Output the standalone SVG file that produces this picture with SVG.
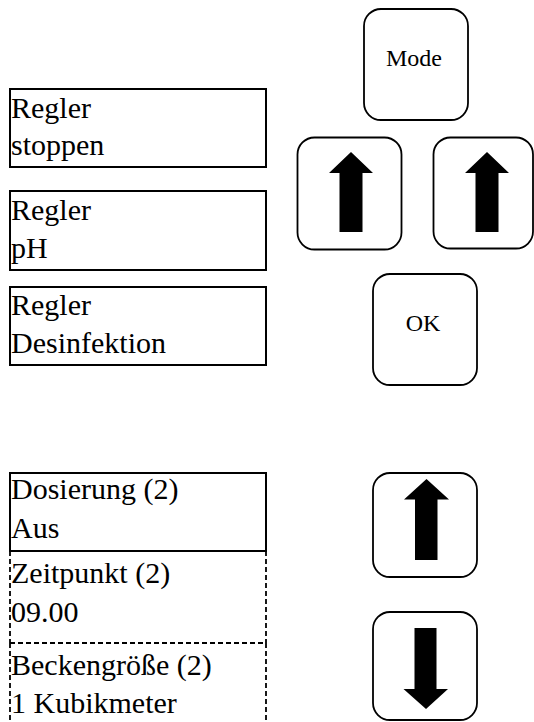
<svg xmlns="http://www.w3.org/2000/svg" width="534" height="722" viewBox="0 0 534 722">
<style>
.bg{fill:#ffffff}
.box{fill:#ffffff;stroke:#000;stroke-width:2}
.dbox{fill:none;stroke:#000;stroke-width:1.8;stroke-dasharray:5 3}
.key{fill:#ffffff;stroke:#000;stroke-width:1.8}
.lbl{font-family:"Liberation Serif","Times New Roman",serif;font-size:30px;fill:#000}
.kl{font-family:"Liberation Serif","Times New Roman",serif;font-size:24px;fill:#000;text-anchor:middle}
.arr{fill:#000}
</style>
<rect class="bg" x="0" y="0" width="534" height="722"/>
<g id="regler-stoppen">
<rect class="box" x="10" y="89" width="256" height="78"/>
<text class="lbl" x="11" y="118">Regler</text>
<text class="lbl" x="11" y="155">stoppen</text>
</g>
<g id="regler-ph">
<rect class="box" x="10" y="191" width="256" height="79"/>
<text class="lbl" x="11" y="220">Regler</text>
<text class="lbl" x="11" y="258">pH</text>
</g>
<g id="regler-desinfektion">
<rect class="box" x="10" y="287" width="256" height="78"/>
<text class="lbl" x="11" y="315">Regler</text>
<text class="lbl" x="11" y="353">Desinfektion</text>
</g>
<g id="zeitpunkt">
<path class="dbox" d="M10 551 V643 M266 551 V643"/>
<text class="lbl" x="11" y="583">Zeitpunkt (2)</text>
<text class="lbl" x="11" y="622">09.00</text>
</g>
<g id="beckengroesse">
<path class="dbox" d="M10 643 H266 M10 643 V735 M266 643 V735"/>
<text class="lbl" x="11" y="675">Beckengröße (2)</text>
<text class="lbl" x="11" y="713">1 Kubikmeter</text>
</g>
<g id="dosierung">
<rect class="box" x="10" y="473" width="256" height="78"/>
<text class="lbl" x="11" y="499">Dosierung (2)</text>
<text class="lbl" x="11" y="538">Aus</text>
</g>
<g id="key-mode">
<rect class="key" x="364" y="9" width="104" height="111" rx="17"/>
<text class="kl" x="414" y="66">Mode</text>
</g>
<g id="key-up-left">
<rect class="key" x="297.5" y="137.5" width="104" height="112" rx="17"/>
<polygon class="arr" points="351,152 373,173 362.5,173 362.5,232 339.5,232 339.5,173 329,173"/>
</g>
<g id="key-up-right">
<rect class="key" x="433.5" y="137.5" width="99.5" height="111" rx="17"/>
<polygon class="arr" points="487,152 509,173 498.5,173 498.5,232 475.5,232 475.5,173 465,173"/>
</g>
<g id="key-ok">
<rect class="key" x="373" y="274" width="104" height="111" rx="17"/>
<text class="kl" x="423" y="331">OK</text>
</g>
<g id="key-up">
<rect class="key" x="373" y="473" width="104" height="104" rx="17"/>
<polygon class="arr" points="426.5,479 449,499.5 437.5,499.5 437.5,560 415,560 415,499.5 404,499.5"/>
</g>
<g id="key-down">
<rect class="key" x="373" y="612" width="104" height="108" rx="17"/>
<polygon class="arr" points="414.5,628 436.5,628 436.5,689 448,689 426,709 403.5,689 414.5,689"/>
</g>
<g id="connectors"></g>
</svg>
